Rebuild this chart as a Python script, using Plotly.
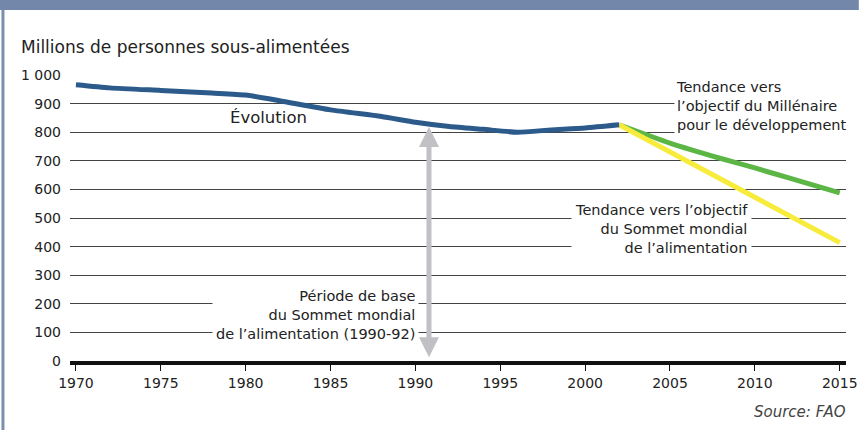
import plotly.graph_objects as go

# Données (millions de personnes sous-alimentées)
annees_evol = [1970, 1972, 1975, 1978, 1980, 1982, 1985, 1988, 1990, 1992, 1994, 1996, 1998, 2000, 2002]
evolution = [966, 955, 946, 937, 930, 910, 878, 855, 835, 820, 810, 800, 808, 815, 826]

annees_omd = [2002, 2005, 2008, 2010, 2012, 2015]
tendance_omd = [826, 762, 708, 675, 640, 588]

annees_sma = [2002, 2015]
tendance_sma = [826, 414]

annees_ticks = [1970, 1975, 1980, 1985, 1990, 1995, 2000, 2005, 2010, 2015]
valeurs_y = [0, 100, 200, 300, 400, 500, 600, 700, 800, 900, 1000]
labels_y = ["0", "100", "200", "300", "400", "500", "600", "700", "800", "900", "1 000"]

police = "DejaVu Sans"
texte = "#222222"

# zone de tracé en pixels : gauche 70, droite 857, haut 75, bas 361
L, R, T, B = 70, 857, 75, 361
def px(x):
    return (x - L) / (R - L)
def py(y):
    return (B - y) / (B - T)

fig = go.Figure()
fig.add_trace(go.Scatter(x=annees_omd, y=tendance_omd, mode="lines",
                         line=dict(color="#5cb646", width=5, shape="spline", smoothing=0.5)))
fig.add_trace(go.Scatter(x=annees_sma, y=tendance_sma, mode="lines",
                         line=dict(color="#f7ec3c", width=5)))
fig.add_trace(go.Scatter(x=annees_evol, y=evolution, mode="lines",
                         line=dict(color="#2b5a8b", width=5, shape="spline", smoothing=0.6)))

annotations = [
    # flèche période de base
    dict(x=1990.8, y=818, ax=1990.8, ay=8, xref="x", yref="y", axref="x", ayref="y",
         text="", showarrow=True, arrowside="end+start", arrowhead=2, startarrowhead=2,
         arrowsize=0.8, startarrowsize=0.8, arrowwidth=5, arrowcolor="#c0c0c5"),
    dict(x=px(18), y=py(47), xref="paper", yref="paper", xanchor="left", yanchor="middle",
         text="Millions de personnes sous-alimentées", showarrow=False,
         font=dict(size=17, color=texte, family=police)),
    dict(x=1981.35, y=853, text="Évolution", showarrow=False,
         font=dict(size=16.5, color=texte, family=police)),
    dict(x=px(683), y=py(106), xref="paper", yref="paper", xanchor="left", yanchor="middle",
         align="left", showarrow=False,
         text="Tendance vers<br>l’objectif du Millénaire<br>pour le développement",
         font=dict(size=14.5, color=texte, family=police), bgcolor="white", borderpad=1),
    dict(x=px(762), y=py(229), xref="paper", yref="paper", xanchor="right", yanchor="middle",
         align="right", showarrow=False,
         text="Tendance vers l’objectif<br>du Sommet mondial<br>de l’alimentation",
         font=dict(size=14.5, color=texte, family=police), bgcolor="white", borderpad=3),
    dict(x=px(424), y=py(315), xref="paper", yref="paper", xanchor="right", yanchor="middle",
         align="right", showarrow=False,
         text="Période de base<br>du Sommet mondial<br>de l’alimentation (1990-92)",
         font=dict(size=14.5, color=texte, family=police), bgcolor="white", borderpad=3),
    dict(x=px(859), y=py(412), xref="paper", yref="paper",
         xanchor="right", yanchor="middle", text="<i>Source: FAO</i>", showarrow=False,
         font=dict(size=15, color="#444444", family=police)),
]

shapes = [
    # bandeau du haut
    dict(type="rect", xref="paper", yref="paper", x0=px(-5), x1=px(870),
         y0=py(10), y1=py(-5), fillcolor="#7287a9", line=dict(width=0), layer="below"),
    # bordure gauche
    dict(type="line", xref="paper", yref="paper", x0=px(2), x1=px(2),
         y0=py(440), y1=py(10), line=dict(color="#7a8fb0", width=3)),
]

fig.update_layout(
    width=861, height=430,
    margin=dict(l=L, r=861 - R, t=T, b=430 - B),
    paper_bgcolor="white", plot_bgcolor="white",
    showlegend=False,
    font=dict(family=police, color=texte),
    annotations=annotations,
    shapes=shapes,
    xaxis=dict(range=[1969.65, 2015.37], tickvals=annees_ticks, showgrid=False,
               showline=True, linecolor="#111111", linewidth=4,
               ticks="outside", ticklen=6, tickwidth=1, tickcolor="#111111",
               ticklabeloverflow="allow",
               tickfont=dict(size=14, color=texte, family=police), zeroline=False),
    yaxis=dict(range=[0, 1000], tickvals=valeurs_y, ticktext=labels_y,
               showgrid=True, gridcolor="#444444", gridwidth=1, zeroline=False,
               ticks="", ticklabelstandoff=8,
               tickfont=dict(size=14, color=texte, family=police)),
)

fig.write_html("out.html", config={"displayModeBar": False},
               post_script="document.body.style.margin='0';")
